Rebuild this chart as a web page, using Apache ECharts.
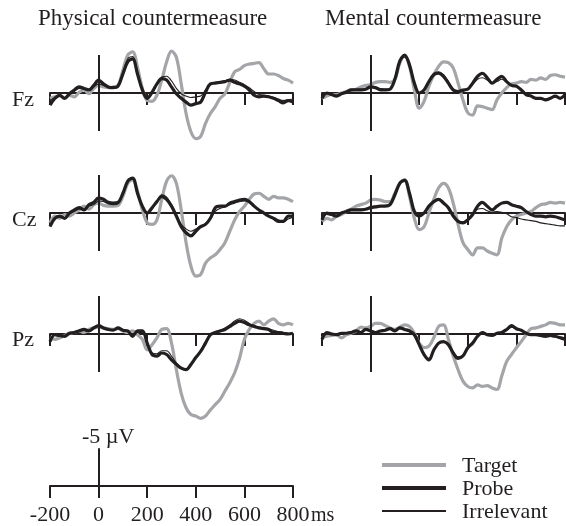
<!DOCTYPE html>
<html>
<head>
<meta charset="utf-8">
<script src="https://cdn.jsdelivr.net/npm/echarts@6/dist/echarts.min.js"></script>
<style>
  html, body { margin: 0; padding: 0; background: #fff; }
  #chart { width: 566px; height: 526px; }
</style>
</head>
<body>
<div id="chart"></div>
<script>
// time points (ms), one value every 20 ms
const times = [];
for (let t = -200; t <= 800; t += 20) times.push(t);

const scaleTicks = [-200, 0, 200, 400, 600, 800];
const columnTitles = ['Physical countermeasure', 'Mental countermeasure'];
const rowNames = ['Fz', 'Cz', 'Pz'];
const seriesNames = ['Target', 'Probe', 'Irrelevant'];

// amplitudes in µV (negative plotted up)
const fzPhysTarget = [0.7, 0.5, 0.3, 0.7, 0.3, 0.5, -0.1, -0.4, 0.1, -0.6, -1.0, -0.8, -0.7, -0.8, -1.0, -3.0, -5.0, -5.4, -3.4, -0.6, 1.0, 1.1, 0.3, -1.7, -4.1, -5.5, -4.7, -1.2, 2.7, 5.1, 6.0, 5.7, 4.0, 2.7, 1.8, 0.7, 0.1, -1.4, -2.8, -3.1, -3.6, -3.8, -3.9, -4.0, -3.2, -2.5, -2.5, -2.3, -1.9, -1.7, -1.3];
const fzPhysProbe = [1.6, 0.7, 0.3, 0.7, 0.1, -0.4, -0.8, -0.6, -0.4, -1.0, -1.7, -1.2, -0.8, -0.7, -0.9, -2.5, -4.1, -4.5, -2.5, -0.4, 0.7, -0.1, -1.2, -1.9, -1.7, -0.8, 0.1, 0.7, 1.2, 1.6, 1.4, 1.2, -0.1, -1.2, -1.3, -1.4, -1.5, -1.7, -1.4, -1.2, -0.9, -0.4, 0.3, 0.5, 0.4, 0.5, 0.7, 1.0, 1.3, 1.0, 1.2];
const fzPhysIrrel = [1.0, 0.6, 0.3, 0.6, 0.2, -0.2, -0.6, -0.5, -0.3, -0.8, -1.2, -1.0, -0.8, -0.8, -1.0, -2.8, -4.5, -4.8, -2.8, -0.5, 0.6, 0.0, -1.2, -2.1, -2.2, -1.6, -0.6, 0.1, 0.4, 0.6, 0.5, 0.4, -0.4, -1.1, -1.4, -1.5, -1.6, -1.8, -1.7, -1.4, -1.1, -0.7, -0.2, 0.2, 0.3, 0.4, 0.6, 0.8, 1.0, 0.9, 0.8];

const fzMentTarget = [0.7, 0.4, 0.2, 0.2, 0.0, -0.2, -0.4, -0.5, -0.8, -1.0, -1.1, -1.4, -1.5, -1.5, -1.4, -1.8, -3.9, -4.9, -3.5, -0.4, 2.0, 1.1, -0.9, -2.4, -3.5, -4.1, -4.0, -3.3, -1.3, 0.9, 2.6, 2.9, 1.7, 1.8, 2.0, 2.2, 0.9, 0.0, -0.7, -1.2, -1.3, -1.5, -1.4, -1.8, -1.7, -2.0, -1.8, -2.3, -2.4, -2.2, -2.1];
const fzMentProbe = [0.7, 0.0, 0.2, 0.4, 0.1, -0.1, -0.4, -0.4, -0.4, -0.5, -0.8, -0.7, -0.4, -0.4, -0.5, -1.8, -4.2, -5.0, -3.7, -1.3, 0.0, -0.4, -1.5, -2.4, -2.6, -2.2, -1.3, -0.4, -0.2, -0.4, -0.5, -1.3, -2.2, -2.6, -2.0, -1.3, -1.8, -2.2, -1.5, -1.0, -0.9, -0.4, 0.2, 0.4, 0.7, 0.7, 0.9, 0.7, 0.4, 0.7, 0.2];
const fzMentIrrel = [0.5, 0.1, 0.3, 0.3, 0.0, -0.2, -0.3, -0.5, -0.5, -0.6, -0.7, -0.8, -0.6, -0.5, -0.6, -1.9, -4.0, -4.7, -3.5, -1.2, 0.1, -0.3, -1.6, -2.6, -2.8, -2.4, -1.5, -0.5, -0.1, -0.2, -0.5, -1.1, -1.8, -2.0, -1.7, -1.3, -1.5, -1.8, -1.4, -1.0, -0.8, -0.4, 0.1, 0.4, 0.6, 0.7, 0.8, 0.7, 0.5, 0.6, 0.4];

const czPhysTarget = [1.3, 0.4, 0.7, 0.2, 0.4, 0.0, -0.4, -0.9, -0.5, -1.1, -1.3, -1.0, -0.9, -0.9, -1.0, -2.2, -3.9, -4.4, -2.9, -0.4, 1.3, 1.5, 0.9, -1.8, -4.2, -4.9, -3.9, -0.4, 3.9, 7.0, 8.3, 8.1, 6.6, 5.9, 5.5, 4.8, 3.9, 2.4, 0.9, -0.2, -0.9, -1.8, -2.5, -2.6, -2.2, -1.8, -2.2, -2.0, -2.0, -1.8, -1.5];
const czPhysProbe = [1.8, 0.7, 0.4, 0.7, 0.0, -0.4, -0.7, -0.4, -1.1, -1.4, -2.0, -1.8, -1.4, -1.3, -1.4, -2.6, -4.2, -4.6, -2.6, -0.9, 0.0, -0.7, -1.5, -2.2, -1.8, -0.9, 0.4, 1.8, 2.6, 3.0, 2.4, 1.8, 1.5, 0.7, -0.7, -0.9, -0.9, -1.3, -1.5, -1.7, -1.8, -1.5, -0.9, -0.4, 0.0, 0.4, 0.7, 1.1, 1.1, 0.4, 0.4];
const czPhysIrrel = [1.6, 0.8, 0.5, 0.6, 0.1, -0.2, -0.5, -0.5, -0.9, -1.1, -1.6, -1.5, -1.2, -1.1, -1.2, -2.5, -4.1, -4.5, -2.7, -0.8, 0.1, -0.5, -1.5, -2.4, -2.1, -1.1, 0.2, 1.5, 2.1, 2.4, 2.1, 1.7, 1.4, 0.8, -0.2, -0.6, -0.8, -1.1, -1.3, -1.5, -1.6, -1.4, -0.9, -0.4, 0.1, 0.4, 0.6, 0.9, 1.2, 0.8, 0.6];

const czMentTarget = [1.1, 0.7, 0.9, 0.4, 0.2, -0.2, -0.5, -0.9, -1.1, -1.3, -1.7, -1.8, -1.7, -1.5, -1.5, -2.6, -3.9, -4.4, -2.2, 0.7, 2.2, 1.8, 0.0, -1.8, -3.3, -3.9, -3.3, -1.3, 1.5, 3.9, 4.8, 5.5, 4.6, 4.6, 5.0, 5.3, 5.5, 3.3, 1.8, 0.9, 0.4, 0.2, 0.0, -0.2, -0.7, -1.1, -1.2, -1.4, -1.3, -1.4, -1.3];
const czMentProbe = [0.9, 0.0, 0.2, 0.4, 0.0, -0.2, -0.4, -0.4, -0.4, -0.5, -0.7, -0.8, -0.9, -0.9, -1.1, -2.4, -3.9, -4.3, -2.6, -0.2, 0.4, 0.0, -0.9, -1.5, -1.8, -1.3, -0.7, 0.4, 1.1, 1.3, 0.9, 0.2, -0.9, -1.4, -0.9, -0.4, -0.9, -1.3, -1.4, -1.1, -0.9, -0.7, -0.2, 0.2, 0.4, 0.4, 0.5, 0.4, 0.5, 0.7, 0.9];
const czMentIrrel = [0.8, 0.2, 0.3, 0.3, 0.0, -0.2, -0.4, -0.5, -0.5, -0.6, -0.8, -0.9, -0.9, -1.0, -1.1, -2.4, -3.9, -4.3, -2.7, -0.3, 0.5, 0.0, -0.9, -1.6, -1.9, -1.5, -0.8, 0.3, 1.0, 1.2, 0.8, 0.2, -0.5, -0.6, -0.3, -0.1, -0.2, -0.1, 0.1, 0.5, 0.6, 0.8, 0.9, 1.0, 1.1, 1.3, 1.4, 1.5, 1.6, 1.7, 1.7];

const pzPhysTarget = [0.5, 0.7, 0.5, 0.2, -0.1, -0.2, -0.4, -0.2, -0.6, -0.8, -0.9, -0.8, -0.7, -0.6, -0.7, -0.4, -0.2, -0.4, 0.1, 0.7, 2.1, 1.4, 0.5, -0.6, -0.7, 1.2, 4.7, 7.8, 9.7, 10.6, 10.8, 11.1, 10.8, 10.0, 9.3, 8.6, 7.5, 6.4, 5.1, 3.2, 0.7, -0.6, -1.4, -1.7, -1.2, -1.7, -2.0, -1.4, -1.2, -1.4, -1.2];
const pzPhysProbe = [1.0, 0.1, 0.2, 0.3, -0.1, -0.2, -0.4, -0.6, -0.4, -0.8, -1.1, -0.8, -0.6, -0.5, -0.8, -0.5, -0.4, 0.3, -0.4, -0.4, 1.2, 2.7, 2.9, 2.5, 2.7, 3.4, 4.0, 4.5, 4.7, 4.0, 3.1, 2.3, 1.2, 0.1, -0.2, -0.4, -0.6, -1.0, -1.4, -1.7, -1.5, -1.2, -1.0, -0.8, -0.7, -0.6, -0.2, -0.2, -0.1, 0.0, -0.1];
const pzPhysIrrel = [0.8, 0.2, 0.3, 0.2, -0.1, -0.3, -0.4, -0.5, -0.3, -0.7, -1.0, -0.8, -0.6, -0.5, -0.7, -0.5, -0.4, 0.2, -0.2, -0.2, 1.2, 2.5, 2.6, 2.2, 2.2, 2.9, 3.8, 4.4, 4.6, 4.0, 3.1, 2.2, 1.0, 0.0, -0.3, -0.5, -0.8, -1.2, -1.7, -2.0, -1.8, -1.4, -1.1, -0.9, -0.8, -0.7, -0.5, -0.3, -0.2, -0.1, 0.0];

const pzMentTarget = [0.5, 0.3, 0.2, 0.1, 0.5, 0.1, -0.1, -0.4, -0.9, -0.8, -1.0, -1.4, -1.4, -1.1, -0.8, -0.6, -0.9, -1.2, -1.0, -0.1, 1.2, 1.8, 1.6, 0.5, -1.0, -1.2, 0.7, 2.9, 4.7, 6.2, 6.9, 7.1, 6.7, 6.9, 6.8, 7.1, 7.3, 5.5, 3.6, 2.7, 1.8, 1.0, 0.1, -0.7, -0.8, -1.0, -1.2, -1.5, -1.4, -1.2, -1.2];
const pzMentProbe = [0.7, -0.2, 0.0, 0.1, -0.1, -0.1, -0.2, -0.4, -0.2, -0.6, -0.4, -0.2, -0.4, -0.5, -0.7, -0.4, -0.8, -0.6, -0.4, 0.1, 1.4, 2.7, 3.4, 2.1, 1.2, 1.0, 1.4, 2.5, 3.2, 2.9, 1.8, 1.2, 0.3, -0.2, 0.1, 0.2, -0.1, -0.2, -0.6, -1.1, -0.7, -0.5, -0.1, 0.1, 0.1, 0.2, 0.3, 0.2, 0.3, 0.5, 0.7];
const pzMentIrrel = [0.5, 0.0, 0.1, 0.0, -0.1, -0.2, -0.3, -0.4, -0.3, -0.5, -0.5, -0.3, -0.4, -0.6, -0.7, -0.5, -0.7, -0.6, -0.3, 0.2, 1.3, 2.6, 3.2, 2.2, 1.3, 1.1, 1.4, 2.3, 3.0, 2.8, 1.9, 1.3, 0.4, 0.0, 0.1, 0.2, 0.0, -0.2, -0.5, -0.9, -0.7, -0.5, -0.2, 0.0, 0.1, 0.2, 0.2, 0.3, 0.4, 0.4, 0.5];

// panels: [row][col] -> [target, probe, irrelevant]
const panels = [
  [[fzPhysTarget, fzPhysProbe, fzPhysIrrel], [fzMentTarget, fzMentProbe, fzMentIrrel]],
  [[czPhysTarget, czPhysProbe, czPhysIrrel], [czMentTarget, czMentProbe, czMentIrrel]],
  [[pzPhysTarget, pzPhysProbe, pzPhysIrrel], [pzMentTarget, pzMentProbe, pzMentIrrel]]
];

const FONT = 'Liberation Serif, Times New Roman, serif';
const INK = '#231f20';
const GRAY = '#a3a5a8';
const PX_PER_UV = 7.6;
const Y_MIN = -6, Y_MAX = 12;
const colLeft = [50, 322];
const rowZero = [93, 213, 334];
const plotW = 243;

const styles = [
  { color: GRAY, width: 3.2 },
  { color: INK, width: 3.2 },
  { color: INK, width: 1.1 }
];

const grid = [], xAxis = [], yAxis = [], series = [];

rowNames.forEach((row, r) => {
  [0, 1].forEach(c => {
    const idx = grid.length;
    grid.push({
      left: colLeft[c], width: plotW,
      top: rowZero[r] + Y_MIN * PX_PER_UV,
      height: (Y_MAX - Y_MIN) * PX_PER_UV
    });
    xAxis.push({
      gridIndex: idx, type: 'value', min: -200, max: 800, interval: 200,
      axisLine: { onZero: true, lineStyle: { color: INK, width: 2 } },
      axisTick: { length: 12, lineStyle: { color: INK, width: 2 } },
      axisLabel: { show: false }, splitLine: { show: false }
    });
    yAxis.push({
      gridIndex: idx, type: 'value', min: Y_MIN, max: Y_MAX, inverse: true,
      show: false, splitLine: { show: false }
    });
    panels[r][c].forEach((vals, k) => {
      const s = {
        name: seriesNames[k], type: 'line', xAxisIndex: idx, yAxisIndex: idx,
        data: times.map((t, i) => [t, vals[i]]),
        showSymbol: false, smooth: 0.35, silent: true, animation: false,
        lineStyle: { color: styles[k].color, width: styles[k].width },
        z: 2 + k
      };
      if (k === 0) {
        s.markLine = {
          silent: true, symbol: 'none', animation: false,
          label: { show: false },
          lineStyle: { color: INK, width: 2, type: 'solid' },
          data: [[{ coord: [0, -5] }, { coord: [0, 5] }]]
        };
      }
      series.push(s);
    });
  });
});

// scale bar panel
const sIdx = grid.length;
grid.push({ left: colLeft[0], width: plotW, top: 449, height: 38 });
xAxis.push({
  gridIndex: sIdx, type: 'value', min: -200, max: 800, interval: 200,
  axisLine: { onZero: true, lineStyle: { color: INK, width: 2 } },
  axisTick: { length: 12, lineStyle: { color: INK, width: 2 } },
  axisLabel: {
    margin: 18, fontFamily: FONT, fontSize: 22, color: INK,
    customValues: scaleTicks
  },
  splitLine: { show: false }
});
yAxis.push({
  gridIndex: sIdx, type: 'value', min: -5, max: 0, inverse: true,
  axisLine: { show: true, onZero: true, lineStyle: { color: INK, width: 2 } },
  axisTick: { show: false }, axisLabel: { show: false }, splitLine: { show: false }
});

const txt = (x, y, text, size, align) => ({
  type: 'text', x, y,
  style: { text, font: size + 'px ' + FONT, fill: INK, textAlign: align || 'left', textVerticalAlign: 'middle' }
});

const graphic = [
  txt(38, 19, columnTitles[0], 23),
  txt(325, 19, columnTitles[1], 23),
  txt(12, 100, rowNames[0], 22),
  txt(12, 220, rowNames[1], 22),
  txt(12, 340, rowNames[2], 22),
  txt(82, 437, '-5 µV', 22),
  txt(311, 516, 'ms', 20)
];
// legend
const legendY = [465, 488, 511];
seriesNames.forEach((n, k) => {
  graphic.push({
    type: 'line', shape: { x1: 382, y1: legendY[k], x2: 446, y2: legendY[k] },
    style: { stroke: styles[k].color, lineWidth: k === 2 ? 2 : 4 }
  });
  graphic.push(txt(462, legendY[k] + 1, n, 22));
});

const chart = echarts.init(document.getElementById('chart'), null, { renderer: 'canvas' });
chart.setOption({
  animation: false,
  backgroundColor: '#fff',
  grid, xAxis, yAxis, series, graphic
});
</script>
</body>
</html>
